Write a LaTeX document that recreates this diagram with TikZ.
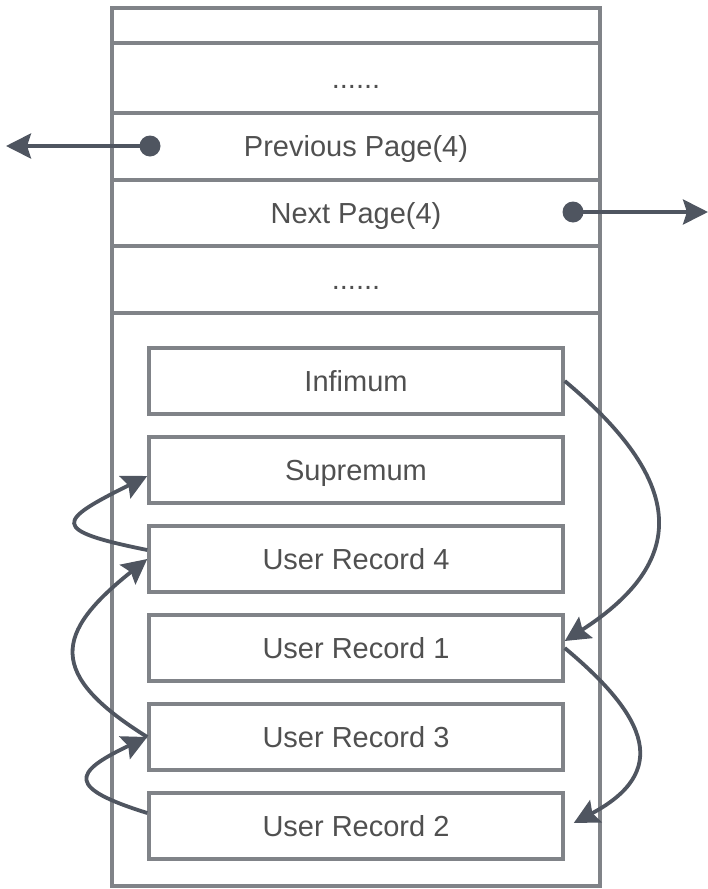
\documentclass[tikz,border=0pt]{standalone}
\usepackage{fontspec}
\setmainfont{Liberation Sans}
\usetikzlibrary{arrows.meta,calc}
\definecolor{boxgray}{HTML}{808388}
\definecolor{arrowc}{HTML}{4F5560}
\definecolor{txt}{HTML}{505050}
\begin{document}
\begin{tikzpicture}[x=1pt,y=-1pt,
  lbl/.style={font=\fontsize{29}{34}\selectfont, text=txt, text height=22pt, text depth=2pt},
  row/.style={lbl, draw=boxgray, line width=3.5pt, minimum width=488pt, inner sep=0pt},
  rec/.style={lbl, draw=boxgray, line width=3.5pt, minimum width=414pt, minimum height=66pt, inner sep=0pt},
  link/.style={draw=arrowc, line width=3.8pt, -{Stealth[length=25pt,width=25pt,inset=4pt]}},
  dotn/.style={circle, fill=arrowc, minimum size=21pt, inner sep=0pt}]
\useasboundingbox (0,0) rectangle (708,889);
% page rows
\node[row, minimum height=35pt] (r0) at (356,25.5) {};
\node[row, minimum height=70pt] (r1) at (356,78) {......};
\node[row, minimum height=67pt] (prev) at (356,146.5) {Previous Page(4)};
\node[row, minimum height=66pt] (next) at (356,213) {Next Page(4)};
\node[row, minimum height=67pt] (r2) at (356,279.5) {......};
\node[row, minimum height=573pt] (body) at (356,599.5) {};
% records
\node[rec] (inf) at (356,381) {Infimum};
\node[rec] (sup) at (356,470) {Supremum};
\node[rec] (u4) at (356,559) {User Record 4};
\node[rec] (u1) at (356,648) {User Record 1};
\node[rec] (u3) at (356,737) {User Record 3};
\node[rec] (u2) at (356,826) {User Record 2};
% page pointers
\node[dotn] (pd) at (150,146) {};
\coordinate (pl) at (6,146);
\draw[link] (pd.center) -- (pl);
\node[dotn] (nd) at (573,212) {};
\coordinate (nr) at (708,212);
\draw[link] (nd.center) -- (nr);
% record chain
\draw[link] (inf.east) .. controls +(116,97) and +(129,-83) .. ([yshift=7pt]u1.east);
\draw[link] (u1.east) .. controls +(84,70) and +(96,-51) .. ([xshift=9pt,yshift=3pt]u2.east);
\draw[link] ([yshift=13pt]u2.west) .. controls +(-80,-25) and +(-76,36) .. (u3.west);
\draw[link] (u3.west) .. controls +(-101,-63) and +(-93,74) .. (u4.west);
\draw[link] ([yshift=9pt]u4.west) .. controls +(-99,-20) and +(-90,45) .. ([yshift=-6pt]sup.west);
\end{tikzpicture}
\end{document}
